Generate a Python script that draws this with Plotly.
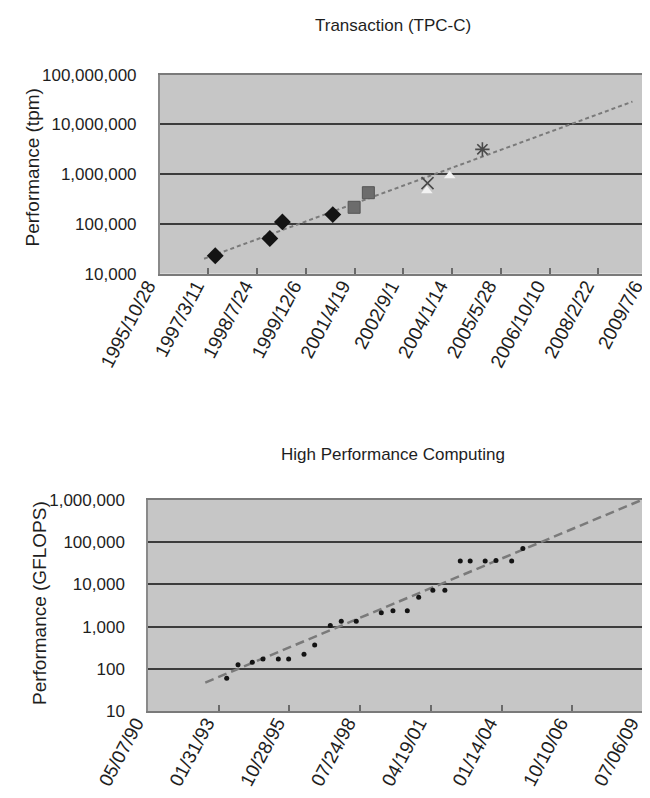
import pandas as pd
import plotly.graph_objects as go

# ---------------- Top chart: Transaction (TPC-C) ----------------
tpc_s1_dates = ["1997-05-20", "1998-12-01", "1999-04-09", "2000-09-07"]
tpc_s1_values = [22900, 51000, 110000, 154000]
tpc_s2_dates = ["2001-04-14", "2001-09-07"]
tpc_s2_values = [216000, 425000]
tpc_s3_dates = ["2003-04-30", "2003-12-21"]
tpc_s3_values = [466000, 930000]
tpc_s4_dates = ["2003-05-07"]
tpc_s4_values = [661000]
tpc_s5_dates = ["2004-11-20"]
tpc_s5_values = [3160000]
tpc_trend_dates = ["1997-01-25", "2009-02-07"]
tpc_trend_values = [20000, 28800000]
tpc_tick_labels = ["1995/10/28", "1997/3/11", "1998/7/24", "1999/12/6", "2001/4/19",
                   "2002/9/1", "2004/1/14", "2005/5/28", "2006/10/10", "2008/2/22", "2009/7/6"]
tpc_y_ticks = [10000, 100000, 1000000, 10000000, 100000000]
tpc_y_labels = ["10,000", "100,000", "1,000,000", "10,000,000", "100,000,000"]

# ---------------- Bottom chart: High Performance Computing ----------------
hpc_dates = ["1993-05-24", "1993-10-31", "1994-05-21", "1994-10-19", "1995-05-24",
             "1995-10-17", "1996-05-21", "1996-10-19", "1997-05-28", "1997-10-30",
             "1998-05-30", "1999-05-19", "1999-10-31", "2000-05-21", "2000-10-29",
             "2001-05-17", "2001-11-03", "2002-06-09", "2002-10-27", "2003-05-27",
             "2003-10-27", "2004-06-05", "2004-11-10"]
hpc_values = [59.7, 124, 143.4, 170, 170, 170, 220.4, 368.2, 1068, 1338,
              1338, 2121, 2379, 2379, 4938, 7226, 7226, 35860, 35860, 35860,
              37000, 35860, 70720]
hpc_trend_dates = ["1992-07-25", "2009-06-16"]
hpc_trend_values = [47.2, 1000000]
hpc_tick_labels = ["05/07/90", "01/31/93", "10/28/95", "07/24/98", "04/19/01",
                   "01/14/04", "10/10/06", "07/06/09"]
hpc_y_ticks = [10, 100, 1000, 10000, 100000, 1000000]
hpc_y_labels = ["10", "100", "1,000", "10,000", "100,000", "1,000,000"]

tpc_tickvals = [pd.to_datetime(s, format="%Y/%m/%d") for s in tpc_tick_labels]
hpc_tickvals = [pd.to_datetime(s, format="%m/%d/%y") for s in hpc_tick_labels]

W, H = 650, 798
FONT = "Liberation Sans, Arial, sans-serif"
TXT = "#1e1e1e"
PLOT_BG = "#c6c6c6"
GRID = "#3c3c3c"

fig = go.Figure()

# top trend
fig.add_trace(go.Scatter(x=tpc_trend_dates, y=tpc_trend_values, mode="lines",
                         line=dict(color="#7a7a7a", width=2, dash="4px,3px"),
                         xaxis="x", yaxis="y", showlegend=False, hoverinfo="skip"))
fig.add_trace(go.Scatter(x=tpc_s1_dates, y=tpc_s1_values, mode="markers",
                         marker=dict(symbol="diamond", size=13, color="#141414"),
                         xaxis="x", yaxis="y", showlegend=False))
fig.add_trace(go.Scatter(x=tpc_s2_dates, y=tpc_s2_values, mode="markers",
                         marker=dict(symbol="square", size=12, color="#6c6c6c",
                                     line=dict(color="#555555", width=1)),
                         xaxis="x", yaxis="y", showlegend=False))
fig.add_trace(go.Scatter(x=tpc_s3_dates, y=tpc_s3_values, mode="markers",
                         marker=dict(symbol="triangle-up", size=10, color="#f2f2f2"),
                         xaxis="x", yaxis="y", showlegend=False))
fig.add_trace(go.Scatter(x=tpc_s4_dates, y=tpc_s4_values, mode="markers",
                         marker=dict(symbol="x-thin-open", size=12, color="#4a4a4a",
                                     line=dict(color="#4a4a4a", width=1.6)),
                         xaxis="x", yaxis="y", showlegend=False))
fig.add_trace(go.Scatter(x=tpc_s5_dates, y=tpc_s5_values, mode="markers",
                         marker=dict(symbol="asterisk-open", size=12, color="#4a4a4a",
                                     line=dict(color="#4a4a4a", width=1.6)),
                         xaxis="x", yaxis="y", showlegend=False))

# bottom trend + points
fig.add_trace(go.Scatter(x=hpc_trend_dates, y=hpc_trend_values, mode="lines",
                         line=dict(color="#7a7a7a", width=2.5, dash="9px,5px"),
                         xaxis="x2", yaxis="y2", showlegend=False, hoverinfo="skip"))
fig.add_trace(go.Scatter(x=hpc_dates, y=hpc_values, mode="markers",
                         marker=dict(symbol="circle", size=5, color="#141414"),
                         xaxis="x2", yaxis="y2", showlegend=False))

xcommon = dict(type="date", showgrid=False, zeroline=False, showline=True,
               linecolor="#7a7a7a", linewidth=1.5, mirror=True, automargin=False,
               ticks="inside", ticklen=6, tickwidth=1.5, tickcolor="#6a6a6a",
               tickangle=-62, ticklabelshift=-12, ticklabelstandoff=-8,
               tickfont=dict(family=FONT, size=19, color=TXT))
ycommon = dict(type="log", showgrid=True, gridcolor=GRID, gridwidth=2,
               zeroline=False, showline=True, linecolor="#8a8a8a", linewidth=1.5,
               mirror=True, ticks="", ticklabelstandoff=18, automargin=False,
               tickfont=dict(family=FONT, size=17, color=TXT))

fig.update_layout(
    width=W, height=H,
    margin=dict(l=0, r=0, t=0, b=0, autoexpand=False),
    paper_bgcolor="white", plot_bgcolor=PLOT_BG,
    showlegend=False,
    xaxis=dict(**xcommon, domain=[151.7 / W, 639 / W], anchor="y",
               range=[tpc_tickvals[0], tpc_tickvals[-1]],
               tickvals=tpc_tickvals, ticktext=tpc_tick_labels),
    yaxis=dict(**ycommon, domain=[1 - 265.7 / H, 1 - 66.7 / H], anchor="x",
               range=[4, 8], tickvals=tpc_y_ticks, ticktext=tpc_y_labels),
    xaxis2=dict(**xcommon, domain=[140 / W, 635 / W], anchor="y2",
                range=[hpc_tickvals[0], hpc_tickvals[-1]],
                tickvals=hpc_tickvals, ticktext=hpc_tick_labels),
    yaxis2=dict(**ycommon, domain=[1 - 703 / H, 1 - 492 / H], anchor="x2",
                range=[1, 6], tickvals=hpc_y_ticks, ticktext=hpc_y_labels),
    annotations=[
        dict(text="Transaction (TPC-C)", x=385 / W, y=1 - 18 / H, xref="paper", yref="paper",
             xanchor="center", yanchor="middle",
             showarrow=False, font=dict(family=FONT, size=17, color=TXT)),
        dict(text="High Performance Computing", x=385 / W, y=1 - 446 / H, xref="paper", yref="paper",
             xanchor="center", yanchor="middle",
             showarrow=False, font=dict(family=FONT, size=17, color=TXT)),
        dict(text="Performance (tpm)", x=23.5 / W, y=1 - 160 / H, xref="paper", yref="paper",
             xanchor="center", yanchor="middle",
             textangle=-90, showarrow=False, font=dict(family=FONT, size=19, color=TXT)),
        dict(text="Performance (GFLOPS)", x=31 / W, y=1 - 595 / H, xref="paper", yref="paper",
             xanchor="center", yanchor="middle",
             textangle=-90, showarrow=False, font=dict(family=FONT, size=19, color=TXT)),
    ],
)

fig.write_html("out.html")
